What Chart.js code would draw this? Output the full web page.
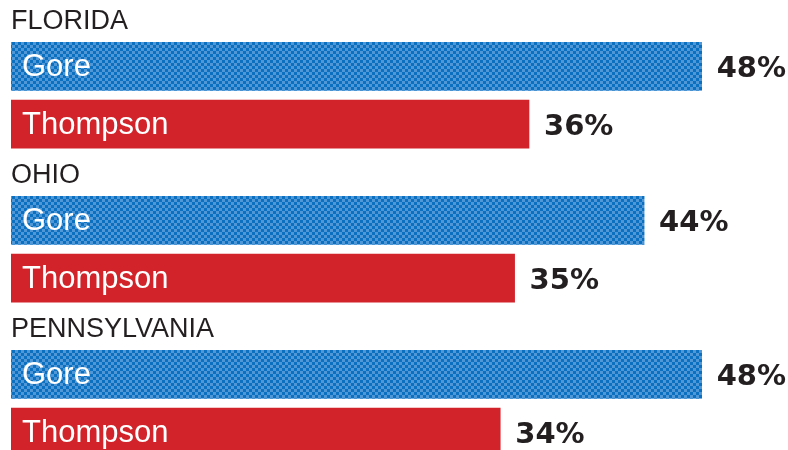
<!DOCTYPE html>
<html>
<head>
<meta charset="utf-8">
<script src="https://cdn.jsdelivr.net/npm/chart.js@4"></script>
<style>
	html,body{margin:0;padding:0;background:#fff;overflow:hidden;}
	.bloque{width:788px;height:154px;position:relative;}
</style>
</head>
<body>
<div class="bloque"><canvas id="chart1"></canvas></div>
<div class="bloque"><canvas id="chart2"></canvas></div>
<div class="bloque"><canvas id="chart3"></canvas></div>
<script>
var estados = ['FLORIDA', 'OHIO', 'PENNSYLVANIA'];
var candidatos = ['Gore', 'Thompson'];
var gore = [48, 44, 48];
var thompson = [36, 35, 34];

var colorRojo = '#d2232a';
var colorTexto = '#231f20';

function patron_azul(){
	var c = document.createElement('canvas');
	c.width = 6; c.height = 6;
	var g = c.getContext('2d');
	g.fillStyle = '#5097d8';
	g.fillRect(0, 0, 6, 6);
	g.fillStyle = '#0c70c0';
	g.fillRect(0, 0, 3, 3);
	g.fillRect(3, 3, 3, 3);
	return g.createPattern(c, 'repeat');
}

// etiquetas dentro y fuera de cada barra
var etiquetas = {
	id: 'etiquetas',
	afterDatasetsDraw: function(chart){
		var ctx = chart.ctx;
		var meta = chart.getDatasetMeta(0);
		var datos = chart.data.datasets[0].data;
		ctx.save();
		for (var i = 0; i < meta.data.length; i++) {
			var bar = meta.data[i];
			ctx.textBaseline = 'middle';
			ctx.textAlign = 'left';
			ctx.fillStyle = '#ffffff';
			ctx.font = '31px "Liberation Sans", sans-serif';
			ctx.fillText(chart.data.labels[i], bar.base + 11, bar.y + 1);
			ctx.fillStyle = colorTexto;
			ctx.font = 'bold 29px "DejaVu Sans", sans-serif';
			ctx.fillText(datos[i] + '%', bar.x + 15, bar.y + 3);
		}
		ctx.restore();
	}
};

function fill_grafico(codpar, nombre, valores){
	var config = {
		type: 'bar',
		data: {
			labels: candidatos,
			datasets: [{
				data: valores,
				backgroundColor: [patron_azul(), colorRojo],
				borderWidth: 0,
				barThickness: 48
			}]
		},
		options: {
			indexAxis: 'y',
			responsive: true,
			maintainAspectRatio: false,
			animation: false,
			layout: { padding: { left: 11, right: 0, top: 0, bottom: 1 } },
			scales: {
				x: { display: false, min: 0, max: 54 },
				y: { display: false }
			},
			plugins: {
				legend: { display: false },
				tooltip: { enabled: false },
				title: {
					display: true,
					text: nombre,
					align: 'start',
					color: colorTexto,
					font: { family: '"Liberation Sans", sans-serif', size: 27, weight: 'normal', lineHeight: 1.2 },
					padding: { top: 5, bottom: 0 }
				}
			}
		},
		plugins: [etiquetas]
	};
	new Chart(document.getElementById('chart' + codpar).getContext('2d'), config);
}

for (var i = 0; i < estados.length; i++) {
	fill_grafico(i + 1, estados[i], [gore[i], thompson[i]]);
}
</script>
</body>
</html>
